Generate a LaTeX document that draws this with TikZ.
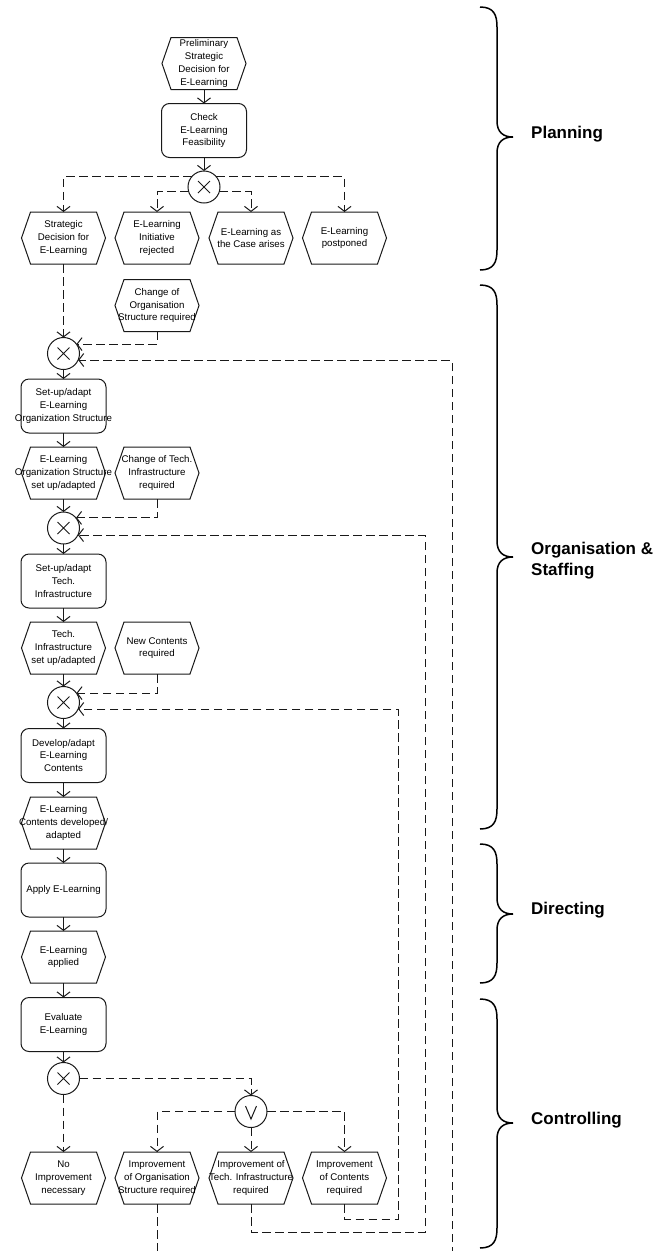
\documentclass[tikz,border=0pt]{standalone}
\usepackage{fontspec}
\setmainfont{Liberation Sans}
\usetikzlibrary{arrows.meta}
\newcommand\mkevt[3]{%
  \node[evtbox] (#1) at (#2) {};
  \draw[shp] (#1.west) -- ([xshift=9pt]#1.north west) -- ([xshift=-9pt]#1.north east)
    -- (#1.east) -- ([xshift=-9pt]#1.south east) -- ([xshift=9pt]#1.south west) -- cycle;
  \node[lbl] (#1t) at (#1.center) {#3};}
\newcommand\mkfn[3]{%
  \node[fnbox] (#1) at (#2) {};
  \node[lbl] (#1t) at (#1.center) {#3};}
\newcommand\phasebrace[3]{%
  \draw[brace] (480,#1) .. controls (494,#1) and (497,{#1+8}) .. (497,{#1+20})
    -- (497,{#2-16}) .. controls (497,{#2-5}) and (503,#2) .. (513,#2)
    .. controls (503,#2) and (497,{#2+5}) .. (497,{#2+16})
    -- (497,{#3-20}) .. controls (497,{#3-8}) and (494,#3) .. (480,#3);}
\begin{document}
\begin{tikzpicture}[x=1pt,y=-1pt,
  shp/.style={draw=black!90, line width=1pt},
  lbl/.style={align=center, font=\fontsize{9.7}{12.7}\selectfont, inner sep=0pt},
  evtbox/.style={minimum width=84pt, minimum height=52pt, inner sep=0pt, outer sep=0pt},
  fnbox/.style={shp, rounded corners=8pt, minimum width=85pt, minimum height=54pt, inner sep=0pt, outer sep=0pt},
  xorc/.style={shp, circle, minimum size=32pt, inner sep=0pt, outer sep=0pt,
    path picture={\draw[black!90, line width=1pt]
      ([shift={(-6pt,-6pt)}]path picture bounding box.center) -- ([shift={(6pt,6pt)}]path picture bounding box.center)
      ([shift={(-6pt,6pt)}]path picture bounding box.center) -- ([shift={(6pt,-6pt)}]path picture bounding box.center);}},
  orc/.style={shp, circle, minimum size=32pt, inner sep=0pt, outer sep=0pt,
    path picture={\draw[black!90, line width=1pt]
      ([shift={(-5.5pt,5.5pt)}]path picture bounding box.center) -- ([shift={(0pt,-7.5pt)}]path picture bounding box.center)
      -- ([shift={(5.5pt,5.5pt)}]path picture bounding box.center);}},
  flow/.style={draw=black!90, line width=1pt, -{Straight Barb[length=5pt,width=13pt]}},
  dflow/.style={flow, dash pattern=on 8.5pt off 4.5pt},
  brace/.style={draw=black, line width=1.5pt},
  phase/.style={anchor=west, align=left, inner sep=0pt, font=\fontsize{17}{21}\selectfont\bfseries},
]
\useasboundingbox (0,0) rectangle (661,1251);
\clip (0,0) rectangle (661,1251);

% top
\mkevt{prelim}{204,63.5}{Preliminary\\Strategic\\Decision for\\E-Learning}
\mkfn{check}{204,130.5}{Check\\E-Learning\\Feasibility}
\node[xorc] (xt) at (204,187) {};
\mkevt{strat}{63.5,238}{Strategic\\Decision for\\E-Learning}
\mkevt{rej}{157,238}{E-Learning\\Initiative\\rejected}
\mkevt{ascase}{251,238}{E-Learning as\\the Case arises}
\mkevt{postp}{344.5,238}{E-Learning\\postponed}

% organisation
\mkevt{chorg}{157,305.5}{Change of\\Organisation\\Structure required}
\node[xorc] (x1) at (63.5,353.5) {};
\mkfn{setorg}{63.5,406}{Set-up/adapt\\E-Learning\\Organization Structure}
\mkevt{orgdone}{63.5,473}{E-Learning\\Organization Structure\\set up/adapted}
\mkevt{chtech}{157,473}{Change of Tech.\\Infrastructure\\required}
\node[xorc] (x2) at (63.5,528) {};
\mkfn{settech}{63.5,581}{Set-up/adapt\\Tech.\\Infrastructure}
\mkevt{techdone}{63.5,648}{Tech.\\Infrastructure\\set up/adapted}
\mkevt{newcont}{157,648}{New Contents\\required}
\node[xorc] (x3) at (63.5,702.5) {};
\mkfn{dev}{63.5,755.5}{Develop/adapt\\E-Learning\\Contents}
\mkevt{contdone}{63.5,823}{E-Learning\\Contents developed/\\adapted}

% directing
\mkfn{apply}{63.5,890}{Apply E-Learning}
\mkevt{applied}{63.5,957}{E-Learning\\applied}

% controlling
\mkfn{eval}{63.5,1024.5}{Evaluate\\E-Learning}
\node[xorc] (x4) at (63.5,1078.5) {};
\node[orc] (or) at (251,1111.5) {};
\mkevt{noimp}{63.5,1178}{No\\Improvement\\necessary}
\mkevt{imporg}{157,1178}{Improvement\\of Organisation\\Structure required}
\mkevt{imptech}{251,1178}{Improvement of\\Tech. Infrastructure\\required}
\mkevt{impcont}{344.5,1178}{Improvement\\of Contents\\required}

% loop coordinates
\coordinate (lo1a) at (157,1290);
\coordinate (lo1b) at (452,1290);
\coordinate (lo2) at (425,1232);
\coordinate (lo3) at (398,1219);

% connectors
\draw[flow] (prelim.south) -- (check.north);
\draw[flow] (check.south) -- (xt.north);
\draw[dflow] (xt.141) -| (strat.north);
\draw[dflow] (xt.198) -| (rej.north);
\draw[dflow] (xt.-18) -| (ascase.north);
\draw[dflow] (xt.39) -| (postp.north);

\draw[dflow] (strat.south) -- (x1.north);
\draw[dflow] (chorg.south) |- (x1.36);
\draw[dflow] (imporg.south) -- (lo1a) -- (lo1b) |- (x1.-24);
\draw[flow] (x1.south) -- (setorg.north);
\draw[flow] (setorg.south) -- (orgdone.north);
\draw[flow] (orgdone.south) -- (x2.north);
\draw[dflow] (chtech.south) |- (x2.39);
\draw[dflow] (imptech.south) |- (lo2) |- (x2.-26);
\draw[flow] (x2.south) -- (settech.north);
\draw[flow] (settech.south) -- (techdone.north);
\draw[flow] (techdone.south) -- (x3.north);
\draw[dflow] (newcont.south) |- (x3.36);
\draw[dflow] (impcont.south) |- (lo3) |- (x3.-24);
\draw[flow] (x3.south) -- (dev.north);
\draw[flow] (dev.south) -- (contdone.north);
\draw[flow] (contdone.south) -- (apply.north);
\draw[flow] (apply.south) -- (applied.north);
\draw[flow] (applied.south) -- (eval.north);
\draw[flow] (eval.south) -- (x4.north);
\draw[dflow] (x4.east) -| (or.north);
\draw[dflow] (x4.south) -- (noimp.north);
\draw[dflow] (or.west) -| (imporg.north);
\draw[dflow] (or.east) -| (impcont.north);
\draw[dflow] (or.south) -- (imptech.north);

% phases
\phasebrace{7}{137}{270}
\phasebrace{285}{557}{829}
\phasebrace{844}{914}{983}
\phasebrace{999}{1123}{1248}
\node[phase] (planning) at (531,134) {Planning};
\node[phase] (orgstaff) at (531,561) {Organisation \&\\Staffing};
\node[phase] (directing) at (531,910) {Directing};
\node[phase] (controlling) at (531,1120) {Controlling};
\end{tikzpicture}
\end{document}
